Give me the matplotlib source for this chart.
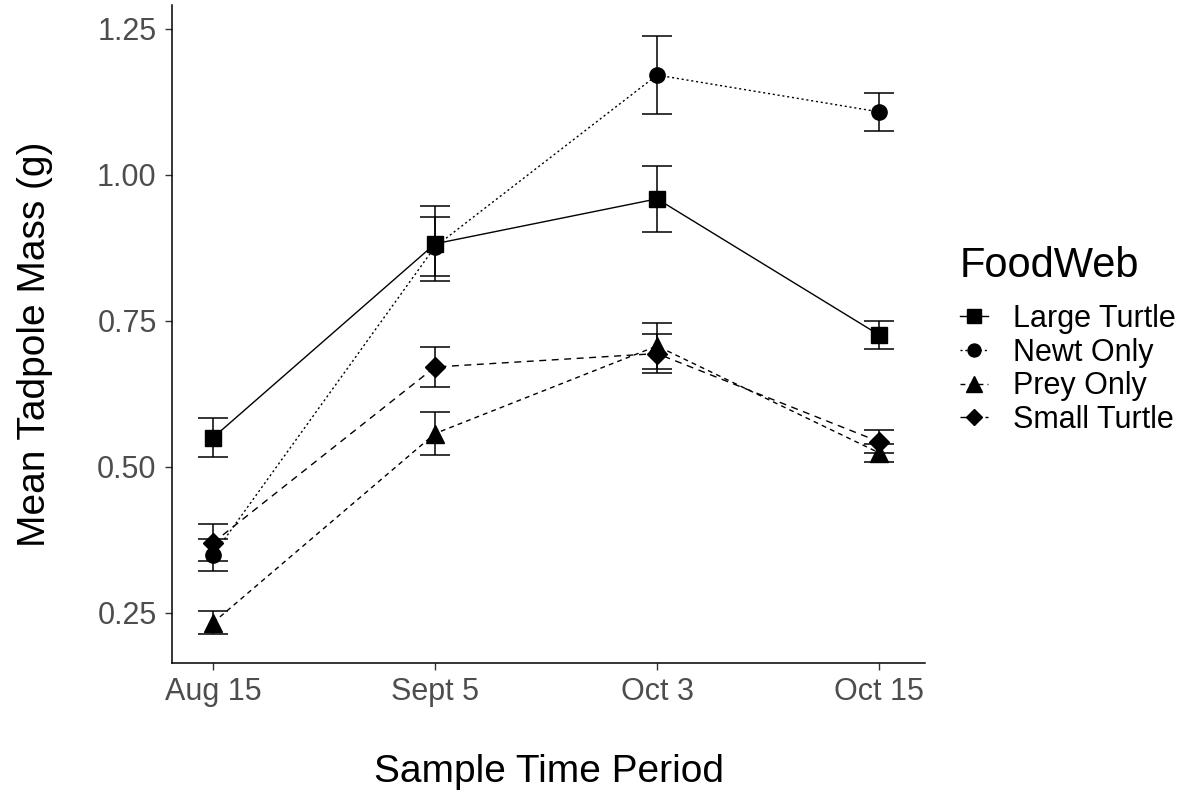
import matplotlib
matplotlib.use("Agg")
import matplotlib.pyplot as plt
from matplotlib.lines import Line2D

plt.rcParams['font.family'] = ['Liberation Sans', 'DejaVu Sans']

periods = ["Aug 15", "Sept 5", "Oct 3", "Oct 15"]
groups = ["Large Turtle", "Newt Only", "Prey Only", "Small Turtle"]

large_turtle = [0.550, 0.882, 0.959, 0.726]
large_turtle_se = [0.034, 0.064, 0.057, 0.024]
newt_only = [0.349, 0.877, 1.171, 1.108]
newt_only_se = [0.027, 0.051, 0.067, 0.033]
prey_only = [0.233, 0.557, 0.707, 0.524]
prey_only_se = [0.020, 0.037, 0.040, 0.015]
small_turtle = [0.370, 0.671, 0.694, 0.543]
small_turtle_se = [0.032, 0.034, 0.033, 0.020]

means = [large_turtle, newt_only, prey_only, small_turtle]
ses = [large_turtle_se, newt_only_se, prey_only_se, small_turtle_se]
markers = ['s', 'o', '^', 'D']
msizes = [12, 11, 13, 10]
linestyles = ['-', (0, (1.5, 2)), (0, (3.5, 3)), (0, (5, 4))]

fig = plt.figure(figsize=(11.9, 7.94), dpi=100)
ax = fig.add_axes([172/1190, 1-663/794, (925-172)/1190, (663-5)/794])

x = list(range(len(periods)))
for m, s, mk, ms, ls, g in zip(means, ses, markers, msizes, linestyles, groups):
    ax.errorbar(x, m, yerr=s, fmt='none', ecolor='black', elinewidth=1.1,
                capsize=11, capthick=1.1, zorder=2)
    ax.plot(x, m, color='black', linestyle=ls, linewidth=1.0, zorder=3)
    ax.plot(x, m, linestyle='none', marker=mk, markersize=ms, color='black', zorder=4)

ax.set_xlim(-0.185, 3.207)
ax.set_ylim(0.164, 1.291)
ax.set_xticks(x)
ax.set_xticklabels(periods)
ax.set_yticks([0.25, 0.50, 0.75, 1.00, 1.25])
ax.set_yticklabels(["0.25", "0.50", "0.75", "1.00", "1.25"])
ax.tick_params(axis='both', labelsize=22, colors='#333333', length=5, width=1,
               labelcolor='#4D4D4D')
ax.tick_params(axis='x', pad=5)
ax.tick_params(axis='y', pad=6)
for sp in ['top', 'right']:
    ax.spines[sp].set_visible(False)
for sp in ['left', 'bottom']:
    ax.spines[sp].set_linewidth(1.1)
    ax.spines[sp].set_color('black')

ax.set_xlabel("Sample Time Period", fontsize=28, labelpad=34)
ax.set_ylabel("Mean Tadpole Mass (g)", fontsize=28, labelpad=32)
ax.yaxis.label.set_y(0.5 - 10/658)

handles = [Line2D([0], [0], color='black', linestyle=ls, linewidth=1.0, marker=mk,
                  markersize=ms * 0.85)
           for mk, ms, ls in zip(markers, msizes, linestyles)]
leg = fig.legend(handles, groups, title="FoodWeb", loc='upper left',
                 bbox_to_anchor=(960/1190, 1-246/794), frameon=False,
                 fontsize=22, title_fontsize=30, handlelength=0.9,
                 handletextpad=0.83, labelspacing=0.12, borderpad=0,
                 borderaxespad=0)
leg._legend_box.align = "left"
leg._legend_box.sep = 13

fig.savefig("out.png", dpi=100)
